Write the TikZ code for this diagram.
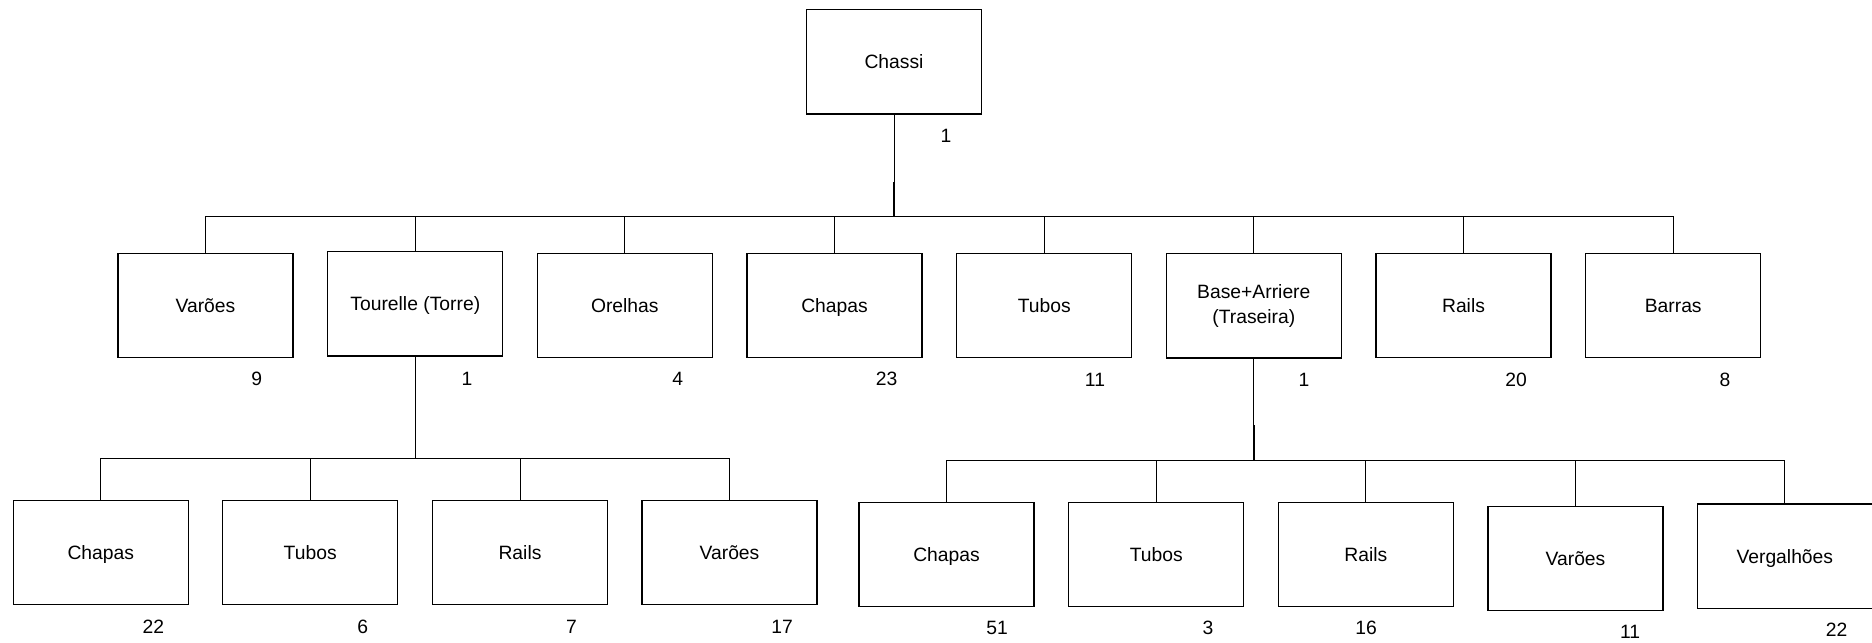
\documentclass[tikz,border=0pt]{standalone}
\usepackage{fontspec}
\setmainfont{Liberation Sans}
\begin{document}
\begin{tikzpicture}[x=0.5pt,y=-0.5pt,
  part/.style={draw, line width=0.65pt, minimum width=87.5pt, minimum height=52.25pt,
    inner sep=0pt, align=center, text height=0.72em, text depth=0.05em,
    font=\fontsize{9.65}{11}\selectfont},
  twoline/.style={text height=, text depth=, font=\fontsize{9.65}{12.5}\selectfont},
  qty/.style={inner sep=0pt, font=\fontsize{9.65}{11}\selectfont},
  link/.style={line width=0.45pt},
  stem/.style={line width=1pt}]
\useasboundingbox (0,0) rectangle (1872,642);

% top assembly
\node[part] (chassi) at (894,61.7) {Chassi};
\node[qty] (q0) at (946,136) {1};

% first level of parts
\node[part] (varoes)   at (205.5,305.5)  {Varões};
\node[part] (torre)    at (415.3,303.8)  {Tourelle (Torre)};
\node[part] (orelhas)  at (624.8,305.5)  {Orelhas};
\node[part] (chapas)   at (834.5,305.5)  {Chapas};
\node[part] (tubos)    at (1044.2,305.5) {Tubos};
\node[part,twoline] (base) at (1253.8,305.6) {Base+Arriere\\(Traseira)};
\node[part] (rails)    at (1463.5,305.5) {Rails};
\node[part] (barras)   at (1673.2,305.5) {Barras};

\node[qty] (q1) at (256.7,378.5) {9};
\node[qty] (q2) at (467,378.5) {1};
\node[qty] (q3) at (677.7,378.5) {4};
\node[qty] (q4) at (886.7,378.5) {23};
\node[qty] (q5) at (1095,379.5) {11};
\node[qty] (q6) at (1304,380) {1};
\node[qty] (q7) at (1516,380) {20};
\node[qty] (q8) at (1725,380) {8};

% parts of the turret
\node[part] (tChapas) at (100.8,552.5) {Chapas};
\node[part] (tTubos)  at (310.2,552.5) {Tubos};
\node[part] (tRails)  at (520,552.5)   {Rails};
\node[part] (tVaroes) at (729.5,552.5) {Varões};

\node[qty] (q9)  at (153.3,627) {22};
\node[qty] (q10) at (362.7,627) {6};
\node[qty] (q11) at (571.5,627) {7};
\node[qty] (q12) at (782,627) {17};

% parts of the rear base
\node[part] (bChapas) at (946.5,554.5)  {Chapas};
\node[part] (bTubos)  at (1156.2,554.5) {Tubos};
\node[part] (bRails)  at (1365.8,554.5) {Rails};
\node[part] (bVaroes) at (1575.5,558.5) {Varões};
\node[part] (bVerg)   at (1784.8,556.3) {Vergalhões};

\node[qty] (q13) at (997,628) {51};
\node[qty] (q14) at (1208,628) {3};
\node[qty] (q15) at (1366,628) {16};
\node[qty] (q16) at (1630,631.7) {11};
\node[qty] (q17) at (1836.7,630) {22};

% junction points of the buses
\coordinate (j1) at (894,216.7);
\coordinate (s1) at (894,182);
\coordinate (j2) at (415.3,458.5);
\coordinate (j3) at (1253.8,460.7);
\coordinate (s3) at (1253.8,425);

% chassi to first level
\draw[link] (chassi.south) -- (s1);
\draw[stem] (s1) -- (j1);
\foreach \c in {varoes,torre,orelhas,chapas,tubos,base,rails,barras}
  \draw[link] (j1) -| (\c.north);

% turret to its parts
\draw[link] (torre.south) -- (j2);
\foreach \c in {tChapas,tTubos,tRails,tVaroes}
  \draw[link] (j2) -| (\c.north);

% rear base to its parts
\draw[link] (base.south) -- (s3);
\draw[stem] (s3) -- (j3);
\foreach \c in {bChapas,bTubos,bRails,bVaroes,bVerg}
  \draw[link] (j3) -| (\c.north);
\end{tikzpicture}
\end{document}
